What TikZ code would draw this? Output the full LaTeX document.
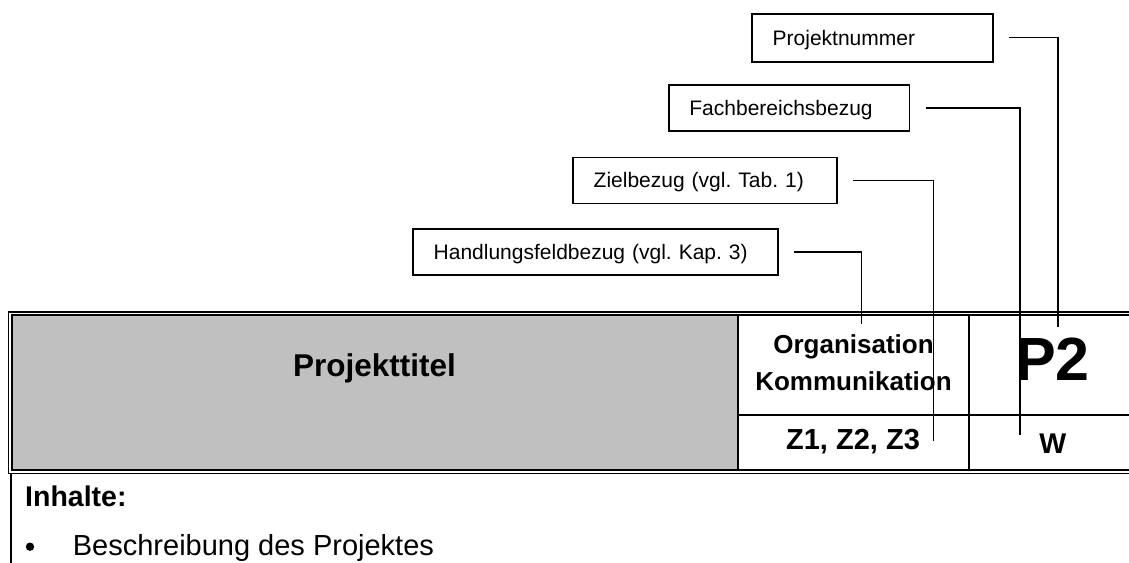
\documentclass[tikz,border=0pt]{standalone}
\usepackage{fontspec}
\setmainfont{Liberation Sans}
\usetikzlibrary{positioning}
\definecolor{cellgray}{RGB}{192,192,192}
\frenchspacing

\begin{document}
\begin{tikzpicture}[x=1pt,y=-1pt,
    tag/.style={draw,line width=1.8pt,anchor=north west,inner xsep=20.5pt,
      text height=15pt,text depth=0pt,align=left,font=\fontsize{21}{25}\selectfont},
    link/.style={line width=1.6pt},
    rule/.style={line width=1.6pt},
    cell/.style={anchor=base,inner sep=0pt,font=\bfseries\fontsize{#1}{#1}\selectfont}]
  \useasboundingbox (0,0) rectangle (1129,562);
 %the table
  %gray title cell
    \fill[cellgray] (11.7,315) rectangle (738,470);
  %double frame
    \draw[rule] (1140,312) -| (8.3,473.3) -- (1140,473.3);
    \draw[rule] (1140,315) -| (11.7,470) -- (1140,470);
    \draw[line width=2pt] (10.5,473.3) -- (10.5,570);
  %inner rules
    \draw[line width=2pt] (738,315) -- (738,470) (969,315) -- (969,470);
    \draw[line width=2pt] (738,414.5) -- (1140,414.5);
  %cell texts
    \node[cell=31.5] (title) at (374.5,376) {Projekttitel};
    \node[cell=26] (org) at (853.5,353.3) {Organisation};
    \node[cell=26] (kom) at (853.5,390.7) {Kommunikation};
    \node[cell=29] (ziele) at (853,449.3) {Z1, Z2, Z3};
    \node[cell=61] (nr) at (1052.5,380) {P2};
    \node[cell=28.5] (fach) at (1052.7,453.5) {W};
  %contents below
    \node[cell=28.5,anchor=base west] (inh) at (25,506) {Inhalte:};
    \node[circle,fill,inner sep=0pt,minimum size=8.4pt] (dot) at (30,546.7) {};
    \node[anchor=base west,inner sep=0pt,font=\fontsize{29}{33}\selectfont] (desc) at (72.7,555) {Beschreibung des Projektes};
 %the labels
  %draw boxes
    \node[tag,minimum width=240.5pt,minimum height=48pt,text width=199.5pt] (pn) at (751.3,12.7) {Projektnummer};
    \node[tag,minimum width=240.5pt,minimum height=46pt,text width=199.5pt] (fb) at (668,84.3) {Fachbereichsbezug};
    \node[tag,minimum width=263.7pt,minimum height=46pt,text width=222.7pt] (zb) at (572.3,156.5) {Zielbezug (vgl. Tab. 1)};
    \node[tag,minimum width=364.4pt,minimum height=46pt,text width=323.4pt] (hb) at (412.3,228.3) {Handlungsfeldbezug (vgl. Kap. 3)};
  %line ends
    \coordinate (pnend) at (1058,327);
    \coordinate (fbend) at (1020,435);
    \coordinate (zbend) at (933.3,440.7);
    \coordinate (hbend) at (861.3,324);
  %draw lines
    \draw[link] ([xshift=15.5pt]pn.east) -| (pnend);
    \draw[link] ([xshift=15.5pt]fb.east) -| (fbend);
    \draw[link] ([xshift=15.5pt]zb.east) -| (zbend);
    \draw[link] ([xshift=15.5pt]hb.east) -| (hbend);
\end{tikzpicture}
\end{document}
